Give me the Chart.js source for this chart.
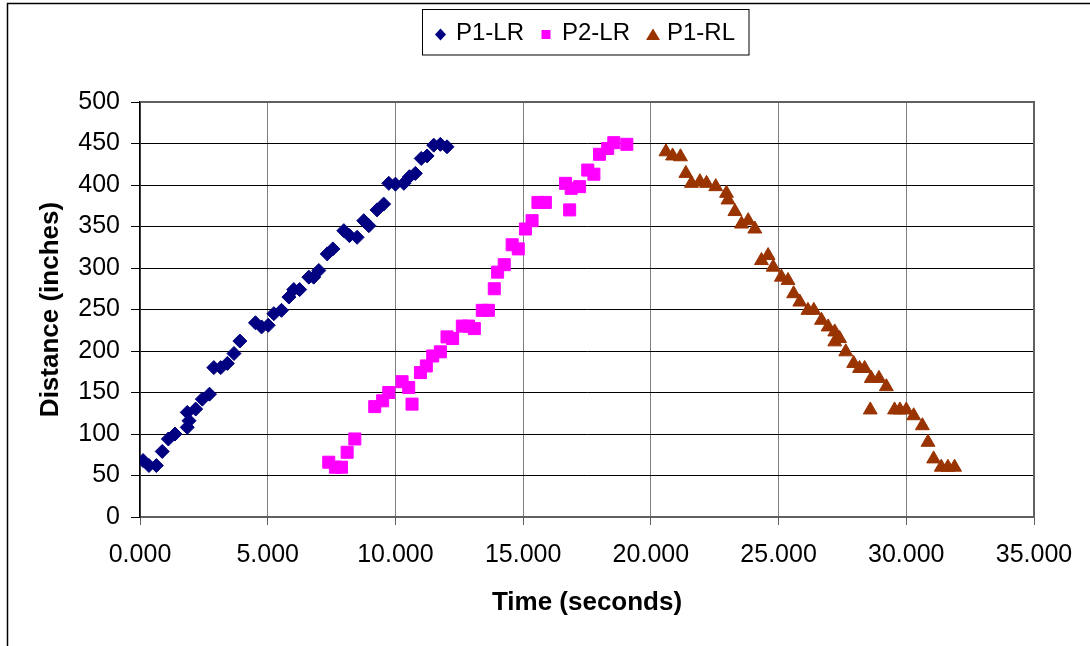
<!DOCTYPE html>
<html>
<head>
<meta charset="utf-8">
<script src="https://cdn.jsdelivr.net/npm/chart.js@4.4.1/dist/chart.umd.min.js"></script>
<style>
  html, body { margin: 0; padding: 0; background: #ffffff; }
  canvas { display: block; }
</style>
</head>
<body>
<canvas id="chart" width="1090" height="646"></canvas>
<script>
// Series names
const seriesNames = ['P1-LR', 'P2-LR', 'P1-RL'];

// P1-LR: time (s) and distance (in)
const p1lrTime = [0.12, 0.35, 0.64, 0.87, 1.11, 1.37, 1.85, 1.92, 1.85, 2.18, 2.44, 2.72, 2.89, 3.16, 3.42, 3.68, 3.91, 4.52, 4.76, 5.02, 5.24, 5.54, 5.83, 6.02, 6.25, 6.61, 6.80, 7.00, 7.33, 7.55, 7.98, 8.20, 8.50, 8.76, 8.96, 9.28, 9.54, 9.74, 10.00, 10.33, 10.55, 10.78, 11.01, 11.24, 11.50, 11.76, 12.02];
const p1lrDist = [68, 62, 62, 79, 94, 100, 108, 116, 126, 130, 142, 148, 180, 180, 185, 197, 212, 234, 229, 231, 245, 249, 265, 274, 274, 289, 289, 297, 317, 323, 345, 339, 337, 357, 351, 370, 377, 402, 401, 402, 410, 414, 432, 435, 448, 449, 446];

// P2-LR
const p2lrTime = [7.39, 7.65, 7.89, 8.11, 8.41, 9.19, 9.50, 9.74, 10.26, 10.52, 10.65, 10.98, 11.21, 11.46, 11.76, 12.02, 12.24, 12.62, 12.86, 13.09, 13.40, 13.64, 13.87, 14.00, 14.26, 14.57, 14.81, 15.09, 15.35, 15.58, 15.87, 16.66, 16.82, 16.88, 17.21, 17.53, 17.77, 17.99, 18.31, 18.55, 19.06];
const p2lrDist = [66, 60, 60, 78, 94, 133, 140, 150, 163, 156, 136, 174, 182, 194, 199, 217, 215, 230, 230, 227, 249, 249, 275, 295, 304, 328, 323, 347, 357, 379, 379, 402, 370, 396, 398, 418, 413, 437, 444, 451, 449];

// P1-RL
const p1rlTime = [20.59, 20.85, 21.16, 21.37, 21.59, 21.92, 22.18, 22.54, 22.96, 23.02, 23.29, 23.55, 23.81, 24.07, 24.33, 24.59, 24.79, 25.11, 25.37, 25.59, 25.83, 26.15, 26.38, 26.68, 26.94, 27.20, 27.20, 27.39, 27.63, 27.94, 28.17, 28.37, 28.59, 28.63, 28.93, 29.22, 29.54, 29.75, 30.00, 30.29, 30.63, 30.85, 31.07, 31.37, 31.63, 31.89];
const p1rlDist = [440, 435, 434, 414, 402, 404, 402, 398, 390, 382, 368, 353, 357, 347, 309, 315, 301, 289, 285, 269, 259, 249, 249, 237, 229, 223, 211, 215, 199, 185, 179, 179, 129, 167, 167, 157, 129, 129, 129, 122, 110, 90, 70, 60, 60, 60];

// Axis tick values
const xTickValues = [0, 5, 10, 15, 20, 25, 30, 35];
const yTickValues = [0, 50, 100, 150, 200, 250, 300, 350, 400, 450, 500];

const toPoints = (xs, ys) => xs.map((x, i) => ({ x: x, y: ys[i] }));

const FONT = '"Liberation Sans", Arial, Helvetica, sans-serif';

// Outer frame lines and plot border
const framePlugin = {
  id: 'frame',
  beforeDraw(chart) {
    const ctx = chart.ctx;
    ctx.save();
    ctx.fillStyle = '#ffffff';
    ctx.fillRect(0, 0, chart.width, chart.height);
    ctx.strokeStyle = '#000000';
    ctx.lineWidth = 1.5;
    ctx.beginPath();
    ctx.moveTo(7.5, chart.height);
    ctx.lineTo(7.5, 3.5);
    ctx.lineTo(chart.width, 3.5);
    ctx.stroke();
    ctx.restore();
  },
  beforeDatasetsDraw(chart) {
    const { ctx, chartArea: a } = chart;
    ctx.save();
    ctx.strokeStyle = '#606060';
    ctx.lineWidth = 2;
    ctx.beginPath();
    ctx.moveTo(a.left, a.top);
    ctx.lineTo(a.right, a.top);
    ctx.lineTo(a.right, a.bottom);
    ctx.stroke();
    ctx.restore();
  }
};

// Boxed legend above the plot
function drawMarker(ctx, style, x, y, color) {
  ctx.fillStyle = color;
  ctx.beginPath();
  if (style === 'rectRot') {
    ctx.moveTo(x, y - 6);
    ctx.lineTo(x + 5.5, y);
    ctx.lineTo(x, y + 6);
    ctx.lineTo(x - 5.5, y);
  } else if (style === 'rect') {
    ctx.rect(x - 4.5, y - 4.5, 9, 9);
  } else {
    ctx.moveTo(x, y - 6);
    ctx.lineTo(x + 7, y + 5.5);
    ctx.lineTo(x - 7, y + 5.5);
  }
  ctx.closePath();
  ctx.fill();
}

const legendPlugin = {
  id: 'boxLegend',
  afterDraw(chart) {
    const ctx = chart.ctx;
    const box = { left: 422.5, top: 9.5, right: 749, bottom: 55 };
    const slots = [{ mx: 440.5, tx: 456 }, { mx: 546, tx: 562 }, { mx: 653, tx: 667 }];
    ctx.save();
    ctx.strokeStyle = '#000000';
    ctx.lineWidth = 1;
    ctx.strokeRect(box.left, box.top, box.right - box.left, box.bottom - box.top);
    ctx.font = '24px ' + FONT;
    ctx.textBaseline = 'alphabetic';
    ctx.textAlign = 'left';
    chart.data.datasets.forEach((ds, i) => {
      drawMarker(ctx, ds.pointStyle, slots[i].mx, 34.5, ds.backgroundColor);
      ctx.fillStyle = '#000000';
      ctx.fillText(ds.label, slots[i].tx, 39.5);
    });
    ctx.restore();
  }
};

new Chart(document.getElementById('chart'), {
  type: 'scatter',
  data: {
    datasets: [
      {
        label: seriesNames[0],
        data: toPoints(p1lrTime, p1lrDist),
        pointStyle: 'rectRot',
        backgroundColor: '#000080',
        borderColor: '#000080',
        borderWidth: 1,
        pointRadius: 7,
        pointHoverRadius: 7
      },
      {
        label: seriesNames[1],
        data: toPoints(p2lrTime, p2lrDist),
        pointStyle: 'rect',
        backgroundColor: '#FF00FF',
        borderColor: '#FF00FF',
        borderWidth: 1,
        pointRadius: 8.5,
        pointHoverRadius: 8.5
      },
      {
        label: seriesNames[2],
        data: toPoints(p1rlTime, p1rlDist),
        pointStyle: 'triangle',
        backgroundColor: '#993300',
        borderColor: '#993300',
        borderWidth: 1,
        pointRadius: 8,
        pointHoverRadius: 8
      }
    ]
  },
  options: {
    responsive: false,
    animation: false,
    layout: { padding: { top: 102, right: 56, bottom: 0, left: 0 } },
    plugins: {
      legend: { display: false },
      tooltip: { enabled: false }
    },
    scales: {
      x: {
        type: 'linear',
        min: 0,
        max: 35,
        afterBuildTicks: s => { s.ticks = xTickValues.map(v => ({ value: v })); },
        afterFit: s => { s.height = 129; },
        ticks: {
          color: '#000000',
          font: { family: FONT, size: 25 },
          padding: 15,
          maxRotation: 0,
          autoSkip: false,
          callback: v => Number(v).toFixed(3)
        },
        grid: {
          color: '#808080',
          lineWidth: 1,
          drawTicks: true,
          tickLength: 8,
          tickColor: '#606060'
        },
        border: { display: true, color: '#606060', width: 2 },
        title: {
          display: true,
          text: 'Time (seconds)',
          color: '#000000',
          font: { family: FONT, size: 26, weight: 'bold' },
          padding: { top: 0, bottom: 28 }
        }
      },
      y: {
        type: 'linear',
        min: 0,
        max: 500,
        afterBuildTicks: s => { s.ticks = yTickValues.map(v => ({ value: v })); },
        afterFit: s => { s.width = 140; },
        ticks: {
          color: '#000000',
          font: { family: FONT, size: 25 },
          padding: 11,
          autoSkip: false
        },
        grid: {
          color: '#000000',
          lineWidth: 1,
          drawTicks: true,
          tickLength: 9,
          tickColor: '#000000'
        },
        border: { display: true, color: '#000000', width: 1.5 },
        title: {
          display: true,
          text: 'Distance (inches)',
          color: '#000000',
          font: { family: FONT, size: 26, weight: 'bold' },
          padding: { top: 35, bottom: 0 }
        }
      }
    }
  },
  plugins: [framePlugin, legendPlugin]
});
</script>
</body>
</html>
